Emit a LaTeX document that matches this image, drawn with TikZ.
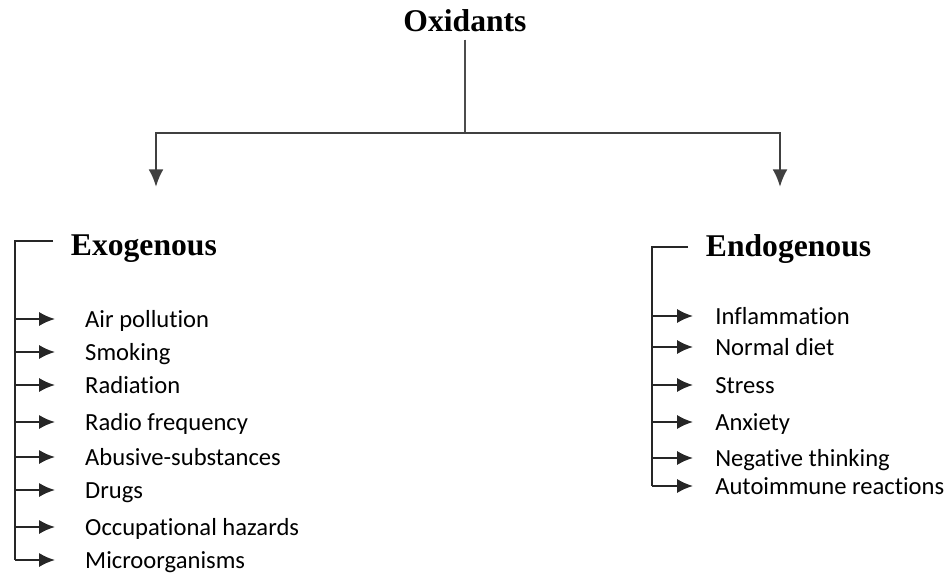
\documentclass[tikz,border=0pt]{standalone}
\usepackage{fontspec}
\setmainfont{Liberation Serif}
\newfontfamily\itemfont[Ligatures=NoCommon]{Carlito}
\usetikzlibrary{arrows.meta}

\begin{document}
\begin{tikzpicture}[x=0.2mm, y=0.2mm,
  head/.style={font=\fontsize{18}{20}\selectfont\bfseries, inner sep=0pt, inner xsep=10pt, anchor=base west},
  item/.style={font=\itemfont\fontsize{14}{16}\selectfont, inner sep=0pt, text height=10pt, text depth=0pt, anchor=west},
  exoitem/.style={item, inner xsep=17pt},
  endoitem/.style={item, inner xsep=12.5pt},
  line/.style={line width=1.2pt, black!85},
  arr/.style={line, -{Latex[length=9pt,width=8pt]}},
  bigarr/.style={line width=1.4pt, black!75, -{Latex[length=10pt,width=8.5pt]}}]
\useasboundingbox (0,0) rectangle (950,-577);
\node[font=\fontsize{18}{20}\selectfont\bfseries, inner sep=4pt, anchor=base] (ox) at (465,-32) {Oxidants};
\coordinate (split) at (465,-133);
\coordinate (exoin) at (156,-187);
\coordinate (endoin) at (780,-187);
\draw[line width=0.9pt, black!70] (ox.south) -- (split);
\draw[bigarr] (split) -| (exoin);
\draw[bigarr] (split) -| (endoin);
\node[head] (exo) at (53,-256) {Exogenous};
\node[head] (endo) at (688,-257) {Endogenous};
\coordinate (exotop) at (15,-241);
\coordinate (endotop) at (652,-247);
\node[exoitem] (air) at (55,-319) {Air pollution};
\node[exoitem] (smoke) at (55,-352) {Smoking};
\node[exoitem] (rad) at (55,-385) {Radiation};
\node[exoitem] (radio) at (55,-422) {Radio frequency};
\node[exoitem] (abuse) at (55,-457) {Abusive-substances};
\node[exoitem] (drugs) at (55,-490) {Drugs};
\node[exoitem] (occ) at (55,-527) {Occupational hazards};
\node[exoitem] (micro) at (55,-560) {Microorganisms};
\node[endoitem] (infl) at (693,-316) {Inflammation};
\node[endoitem] (diet) at (693,-347) {Normal diet};
\node[endoitem] (stress) at (693,-385) {Stress};
\node[endoitem] (anx) at (693,-422) {Anxiety};
\node[endoitem] (neg) at (693,-458) {Negative thinking};
\node[endoitem] (auto) at (693,-486) {Autoimmune reactions};
\draw[line] (exo.west |- exotop) -- (exotop) -- (exotop |- micro.west);
\draw[line] (endo.west |- endotop) -- (endotop) -- (endotop |- auto.west);
\draw[arr] (air.west -| exotop) -- (air.west);
\draw[arr] (smoke.west -| exotop) -- (smoke.west);
\draw[arr] (rad.west -| exotop) -- (rad.west);
\draw[arr] (radio.west -| exotop) -- (radio.west);
\draw[arr] (abuse.west -| exotop) -- (abuse.west);
\draw[arr] (drugs.west -| exotop) -- (drugs.west);
\draw[arr] (occ.west -| exotop) -- (occ.west);
\draw[arr] (micro.west -| exotop) -- (micro.west);
\draw[arr] (infl.west -| endotop) -- (infl.west);
\draw[arr] (diet.west -| endotop) -- (diet.west);
\draw[arr] (stress.west -| endotop) -- (stress.west);
\draw[arr] (anx.west -| endotop) -- (anx.west);
\draw[arr] (neg.west -| endotop) -- (neg.west);
\draw[arr] (auto.west -| endotop) -- (auto.west);
\end{tikzpicture}
\end{document}
